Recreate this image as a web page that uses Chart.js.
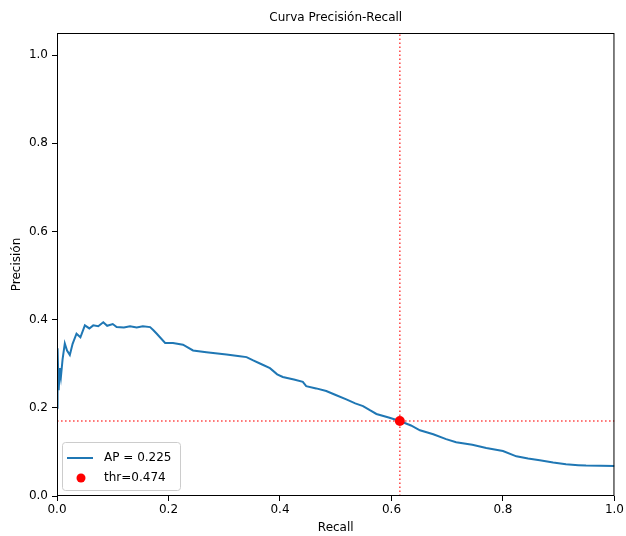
<!DOCTYPE html>
<html>
<head>
    <script src="https://cdn.jsdelivr.net/npm/chart.js@4.4.1/dist/chart.umd.min.js"></script>
    <style>
        body { margin: 0; background: #fff; }
        #wrap { width: 626px; height: 536px; }
    </style>
</head>
<body>
    <div id="wrap"><canvas id="pr"></canvas></div>
    <script>
        // data
        const recall = [0, 0.001, 0.003, 0.005, 0.007, 0.01, 0.014, 0.018, 0.023, 0.028, 0.035, 0.042, 0.05, 0.058, 0.065, 0.074, 0.083, 0.09, 0.1, 0.107, 0.12, 0.131, 0.143, 0.154, 0.167, 0.173, 0.179, 0.194, 0.208, 0.226, 0.244, 0.268, 0.304, 0.328, 0.34, 0.351, 0.365, 0.382, 0.395, 0.405, 0.425, 0.441, 0.447, 0.465, 0.483, 0.5, 0.519, 0.535, 0.549, 0.562, 0.573, 0.595, 0.615, 0.635, 0.651, 0.675, 0.698, 0.716, 0.745, 0.77, 0.8, 0.824, 0.845, 0.866, 0.89, 0.913, 0.935, 0.949, 0.975, 1.0];
        const precision = [0.2, 0.335, 0.24, 0.29, 0.27, 0.31, 0.346, 0.33, 0.32, 0.345, 0.368, 0.36, 0.387, 0.38, 0.387, 0.385, 0.394, 0.386, 0.39, 0.383, 0.382, 0.385, 0.382, 0.385, 0.383, 0.376, 0.368, 0.347, 0.347, 0.343, 0.33, 0.326, 0.321, 0.317, 0.315, 0.308, 0.3, 0.29, 0.276, 0.27, 0.264, 0.259, 0.249, 0.244, 0.238, 0.229, 0.219, 0.21, 0.204, 0.194, 0.186, 0.178, 0.17, 0.16, 0.149, 0.14, 0.129, 0.122, 0.116, 0.109, 0.102, 0.09, 0.085, 0.081, 0.076, 0.072, 0.07, 0.069, 0.0685, 0.068];
        const apLabel = 'AP = 0.225';
        const thrLabel = 'thr=0.474';
        const thrRecall = 0.615;
        const thrPrecision = 0.17;
        const xTicks = [0, 0.2, 0.4, 0.6, 0.8, 1.0];
        const yTicks = [0, 0.2, 0.4, 0.6, 0.8, 1.0];

        const FONT = 'DejaVu Sans';
        const curve = recall.map((r, i) => ({ x: r, y: precision[i] }));

        // frame, title and legend drawn like matplotlib
        const mplLook = {
            id: 'mplLook',
            afterDraw(chart) {
                const c = chart.ctx, a = chart.chartArea;
                c.save();
                c.strokeStyle = '#000';
                c.lineWidth = 1;
                c.strokeRect(a.left + 0.5, a.top + 0.5, a.right - a.left - 1, a.bottom - a.top - 1);

                c.fillStyle = '#000';
                c.font = '12px "' + FONT + '"';
                c.textAlign = 'center';
                c.textBaseline = 'middle';
                c.fillText('Curva Precisión-Recall', (a.left + a.right) / 2, 18);

                // legend box
                const lx = a.left + 5, ly = a.bottom - 54, lw = 118, lh = 48;
                c.beginPath();
                c.roundRect(lx + 0.5, ly + 0.5, lw, lh, 3);
                c.fillStyle = 'rgba(255,255,255,0.8)';
                c.fill();
                c.strokeStyle = '#cccccc';
                c.stroke();
                c.strokeStyle = '#1f77b4';
                c.lineWidth = 2;
                c.beginPath();
                c.moveTo(lx + 5, ly + 16);
                c.lineTo(lx + 31, ly + 16);
                c.stroke();
                c.fillStyle = '#ff0000';
                c.beginPath();
                c.arc(lx + 19, ly + 36, 4.5, 0, Math.PI * 2);
                c.fill();
                c.fillStyle = '#000';
                c.textAlign = 'left';
                c.fillText(apLabel, lx + 42, ly + 16);
                c.fillText(thrLabel, lx + 42, ly + 36);
                c.restore();
            }
        };

        new Chart(document.getElementById('pr'), {
            type: 'scatter',
            data: {
                datasets: [
                    {
                        data: [{ x: thrRecall, y: 0 }, { x: thrRecall, y: 1.05 }],
                        showLine: true, borderColor: 'rgba(255,0,0,0.7)', borderWidth: 1.6,
                        borderDash: [1.6, 2.4], pointRadius: 0, order: 3
                    },
                    {
                        data: [{ x: 0, y: thrPrecision }, { x: 1, y: thrPrecision }],
                        showLine: true, borderColor: 'rgba(255,0,0,0.7)', borderWidth: 1.6,
                        borderDash: [1.6, 2.4], pointRadius: 0, order: 2
                    },
                    {
                        label: apLabel, data: curve, showLine: true,
                        borderColor: '#1f77b4', borderWidth: 2, pointRadius: 0, tension: 0, order: 1
                    },
                    {
                        label: thrLabel, data: [{ x: thrRecall, y: thrPrecision }],
                        backgroundColor: '#ff0000', borderWidth: 0, pointRadius: 5, order: 0
                    }
                ]
            },
            options: {
                responsive: true,
                maintainAspectRatio: false,
                animation: false,
                events: [],
                layout: { padding: { top: 33, right: 11, left: 0, bottom: 0 } },
                plugins: { legend: { display: false }, tooltip: { enabled: false }, title: { display: false } },
                scales: {
                    x: {
                        type: 'linear', min: 0, max: 1,
                        afterFit(s) { s.height = 40; },
                        afterBuildTicks(s) { s.ticks = xTicks.map(v => ({ value: v })); },
                        grid: { drawOnChartArea: false, tickLength: 5, tickColor: '#000' },
                        border: { display: false },
                        ticks: { color: '#000', padding: 2, maxRotation: 0, font: { family: FONT, size: 12 }, callback: v => v.toFixed(1) },
                        title: { display: true, text: 'Recall', color: '#000', padding: { top: 0, bottom: 1 }, font: { family: FONT, size: 12 } }
                    },
                    y: {
                        type: 'linear', min: 0, max: 1.05,
                        afterFit(s) { s.width = 57; },
                        afterBuildTicks(s) { s.ticks = yTicks.map(v => ({ value: v })); },
                        grid: { drawOnChartArea: false, tickLength: 5, tickColor: '#000' },
                        border: { display: false },
                        ticks: { color: '#000', padding: 4, font: { family: FONT, size: 12 }, callback: v => v.toFixed(1) },
                        title: { display: true, text: 'Precisión', color: '#000', padding: { top: 10, bottom: 0 }, font: { family: FONT, size: 12 } }
                    }
                }
            },
            plugins: [mplLook]
        });
    </script>
</body>
</html>
